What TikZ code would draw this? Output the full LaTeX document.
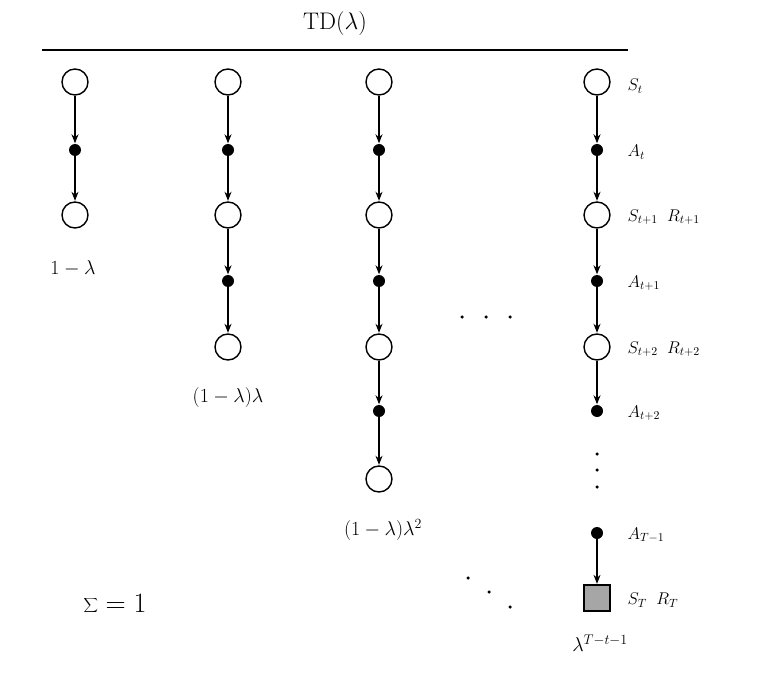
\RequirePackage{fix-cm}
\documentclass[tikz,border=0pt]{standalone}
\usetikzlibrary{arrows.meta}
\begin{document}
\begin{tikzpicture}[x=1pt,y=-1pt,
  st/.style={circle,draw,line width=1.4pt,minimum size=26pt,inner sep=0pt},
  ac/.style={circle,fill=black,minimum size=12pt,inner sep=0pt},
  term/.style={rectangle,draw,line width=1.3pt,fill=black!35,minimum size=26pt,inner sep=0pt},
  ar/.style={-{Stealth[length=9pt,width=7pt]},line width=1.2pt,shorten >=0.5pt},
  dt/.style={circle,fill=black,minimum size=3.5pt,inner sep=0pt},
  lb/.style={anchor=west,font=\fontsize{17}{20}\selectfont},
  wl/.style={font=\fontsize{20}{24}\selectfont}]
\useasboundingbox (0,0) rectangle (770,676);
\node[font=\fontsize{24}{28}\selectfont] (title) at (335,24) {TD($\lambda$)};
\coordinate (l1) at (42,50); \coordinate (l2) at (628,50);
\draw[line width=1.2pt] (l1) -- (l2);
% column 1
\node[st] (a1) at (75,82) {}; \node[ac] (a2) at (75,150) {}; \node[st] (a3) at (75,215) {};
\draw[ar] (a1)--(a2); \draw[ar] (a2)--(a3);
\node[wl] (w1) at (73,268) {$1-\lambda$};
% column 2
\node[st] (b1) at (228,82) {}; \node[ac] (b2) at (228,150) {}; \node[st] (b3) at (228,215) {};
\node[ac] (b4) at (228,281) {}; \node[st] (b5) at (228,347) {};
\draw[ar] (b1)--(b2); \draw[ar] (b2)--(b3); \draw[ar] (b3)--(b4); \draw[ar] (b4)--(b5);
\node[wl] (w2) at (228,397) {$(1-\lambda)\lambda$};
% column 3
\node[st] (c1) at (379,82) {}; \node[ac] (c2) at (379,150) {}; \node[st] (c3) at (379,215) {};
\node[ac] (c4) at (379,281) {}; \node[st] (c5) at (379,347) {}; \node[ac] (c6) at (379,411) {};
\node[st] (c7) at (379,479) {};
\draw[ar] (c1)--(c2); \draw[ar] (c2)--(c3); \draw[ar] (c3)--(c4); \draw[ar] (c4)--(c5);
\draw[ar] (c5)--(c6); \draw[ar] (c6)--(c7);
\node[wl] (w3) at (383,530) {$(1-\lambda)\lambda^2$};
% dots
\node[dt] (h1) at (462,317) {}; \node[dt] (h2) at (486,317) {}; \node[dt] (h3) at (510,317) {};
% column 4
\node[st] (d1) at (597,82) {}; \node[ac] (d2) at (597,150) {}; \node[st] (d3) at (597,215) {};
\node[ac] (d4) at (597,281) {}; \node[st] (d5) at (597,347) {}; \node[ac] (d6) at (597,411) {};
\node[ac] (d7) at (597,533) {}; \node[term] (d8) at (597,598) {};
\draw[ar] (d1)--(d2); \draw[ar] (d2)--(d3); \draw[ar] (d3)--(d4); \draw[ar] (d4)--(d5);
\draw[ar] (d5)--(d6); \draw[ar] (d7)--(d8);
\node[dt] (v1) at (597,454) {}; \node[dt] (v2) at (597,470) {}; \node[dt] (v3) at (597,487) {};
\node[dt] (e1) at (468,578) {}; \node[dt] (e2) at (489,592) {}; \node[dt] (e3) at (510,607) {};
\node[lb] at (624,86) {$S_t$};
\node[lb] at (624,152) {$A_t$};
\node[lb] at (624,217) {$S_{t+1}\;\;R_{t+1}$};
\node[lb] at (624,283) {$A_{t+1}$};
\node[lb] at (624,349) {$S_{t+2}\;\;R_{t+2}$};
\node[lb] at (624,413) {$A_{t+2}$};
\node[lb] at (624,535) {$A_{T-1}$};
\node[lb] at (624,600) {$S_T\;\;R_T$};
\node[wl] (w4) at (600,643) {$\lambda^{T-t-1}$};
\node[font=\fontsize{28}{32}\selectfont] (sum) at (115,604) {$\displaystyle\sum=1$};
\end{tikzpicture}
\end{document}
